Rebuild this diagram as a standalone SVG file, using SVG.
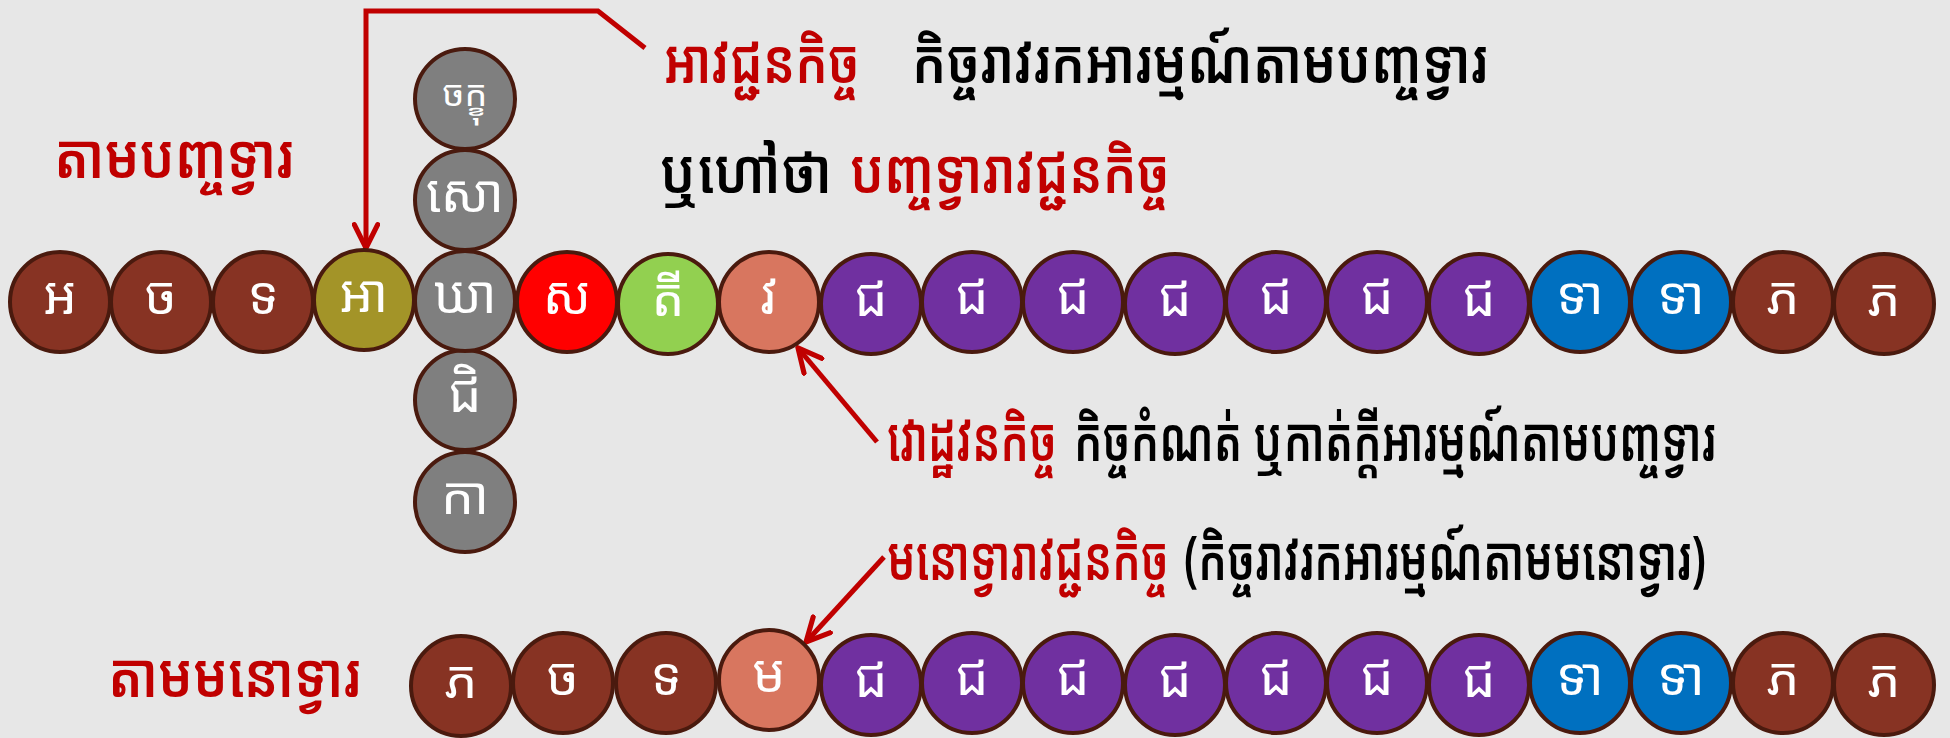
<svg xmlns="http://www.w3.org/2000/svg" width="1950" height="738" viewBox="0 0 1950 738">
<style>
.bg{fill:#e7e7e7}
.n circle{stroke:#4a1a0e;stroke-width:4}
.n text{fill:#ffffff;font-family:"Noto Sans Khmer","Khmer OS","Noto Serif Khmer","Noto Sans",sans-serif;font-size:52px;text-anchor:middle}
.br{fill:#873323}.ol{fill:#a39428}.gr{fill:#7f7f7f}.rd{fill:#ff0000}.gn{fill:#92d050}.sa{fill:#d8765f}.pu{fill:#7030a0}.bl{fill:#0070c0}
.t{font-family:"Noto Sans Khmer","Khmer OS","Noto Serif Khmer","Noto Sans",sans-serif;font-size:62px;font-weight:600}
.r{fill:#c00000}.k{fill:#000000}
.c{fill:none;stroke:#c00000;stroke-width:5}
</style>
<defs>
<marker id="ah" viewBox="0 0 12 12" refX="11" refY="6" markerWidth="28" markerHeight="28" markerUnits="userSpaceOnUse" orient="auto">
<path d="M1,1 L11,6 L1,11" fill="none" stroke="#c00000" stroke-width="2.2" stroke-linecap="round" stroke-linejoin="miter"/>
</marker>
</defs>
<rect class="bg" x="0" y="0" width="1950" height="738"/>

<g id="labels">
<text class="t r" x="54" y="178" textLength="240" lengthAdjust="spacingAndGlyphs">តាមបញ្ចទ្វារ</text>
<text class="t r" x="664" y="83" textLength="196" lengthAdjust="spacingAndGlyphs">អាវជ្ជនកិច្ច</text>
<text class="t k" x="912" y="83" textLength="576" lengthAdjust="spacingAndGlyphs">កិច្ចរាវរកអារម្មណ៍តាមបញ្ចទ្វារ</text>
<text class="t k" x="660" y="193" textLength="172" lengthAdjust="spacingAndGlyphs">ឬហៅថា</text>
<text class="t r" x="850" y="193" textLength="320" lengthAdjust="spacingAndGlyphs">បញ្ចទ្វារាវជ្ជនកិច្ច</text>
<text class="t r" x="887" y="461" textLength="170" lengthAdjust="spacingAndGlyphs">វោដ្ឋវនកិច្ច</text>
<text class="t k" x="1074" y="461" textLength="642" lengthAdjust="spacingAndGlyphs">កិច្ចកំណត់ ឬកាត់ក្តីអារម្មណ៍តាមបញ្ចទ្វារ</text>
<text class="t r" x="887" y="580" textLength="282" lengthAdjust="spacingAndGlyphs">មនោទ្វារាវជ្ជនកិច្ច</text>
<text class="t k" x="1184" y="580" textLength="522" lengthAdjust="spacingAndGlyphs">(កិច្ចរាវរកអារម្មណ៍តាមមនោទ្វារ)</text>
<text class="t r" x="108" y="697" textLength="253" lengthAdjust="spacingAndGlyphs">តាមមនោទ្វារ</text>
</g>

<g id="connectors">
<path class="c" d="M645,48 L598,11 L366,11 L366,248" marker-end="url(#ah)"/>
<path class="c" d="M877,442 L798,348" marker-end="url(#ah)"/>
<path class="c" d="M884,557 L806,642" marker-end="url(#ah)"/>
</g>

<g id="column">
<g id="c-cakkhu" class="n"><circle class="gr" cx="465" cy="99" r="50"/><text x="465" y="106" style="font-size:36px">ចក្ខុ</text></g>
<g id="c-so" class="n"><circle class="gr" cx="465" cy="200" r="50"/><text x="465" y="212">សោ</text></g>
<g id="c-ji" class="n"><circle class="gr" cx="465" cy="400" r="50"/><text x="465" y="412">ជិ</text></g>
<g id="c-ka" class="n"><circle class="gr" cx="465" cy="502" r="50"/><text x="465" y="514">កា</text></g>
</g>

<g id="top-row">
<g id="t1" class="n"><circle class="br" cx="60" cy="302" r="50"/><text x="60" y="314">អ</text></g>
<g id="t2" class="n"><circle class="br" cx="161" cy="302" r="50"/><text x="161" y="314">ច</text></g>
<g id="t3" class="n"><circle class="br" cx="263" cy="302" r="50"/><text x="263" y="314">ទ</text></g>
<g id="t4" class="n"><circle class="ol" cx="364" cy="300" r="50"/><text x="364" y="312">អា</text></g>
<g id="t5" class="n"><circle class="gr" cx="465" cy="301" r="50"/><text x="465" y="313">ឃា</text></g>
<g id="t6" class="n"><circle class="rd" cx="567" cy="302" r="50"/><text x="567" y="314">ស</text></g>
<g id="t7" class="n"><circle class="gn" cx="668" cy="304" r="50"/><text x="668" y="316">តី</text></g>
<g id="t8" class="n"><circle class="sa" cx="769" cy="302" r="50"/><text x="769" y="314">វ</text></g>
<g id="t9" class="n"><circle class="pu" cx="871" cy="304" r="50"/><text x="871" y="316">ជ</text></g>
<g id="t10" class="n"><circle class="pu" cx="972" cy="302" r="50"/><text x="972" y="314">ជ</text></g>
<g id="t11" class="n"><circle class="pu" cx="1073" cy="302" r="50"/><text x="1073" y="314">ជ</text></g>
<g id="t12" class="n"><circle class="pu" cx="1175" cy="304" r="50"/><text x="1175" y="316">ជ</text></g>
<g id="t13" class="n"><circle class="pu" cx="1276" cy="302" r="50"/><text x="1276" y="314">ជ</text></g>
<g id="t14" class="n"><circle class="pu" cx="1377" cy="302" r="50"/><text x="1377" y="314">ជ</text></g>
<g id="t15" class="n"><circle class="pu" cx="1479" cy="304" r="50"/><text x="1479" y="316">ជ</text></g>
<g id="t16" class="n"><circle class="bl" cx="1580" cy="302" r="50"/><text x="1580" y="314">ទា</text></g>
<g id="t17" class="n"><circle class="bl" cx="1681" cy="302" r="50"/><text x="1681" y="314">ទា</text></g>
<g id="t18" class="n"><circle class="br" cx="1783" cy="302" r="50"/><text x="1783" y="314">ភ</text></g>
<g id="t19" class="n"><circle class="br" cx="1884" cy="304" r="50"/><text x="1884" y="316">ភ</text></g>
</g>

<g id="bottom-row">
<g id="b1" class="n"><circle class="br" cx="461" cy="686" r="50"/><text x="461" y="698">ភ</text></g>
<g id="b2" class="n"><circle class="br" cx="563" cy="683" r="50"/><text x="563" y="695">ច</text></g>
<g id="b3" class="n"><circle class="br" cx="666" cy="683" r="50"/><text x="666" y="695">ទ</text></g>
<g id="b4" class="n"><circle class="sa" cx="769" cy="680" r="50"/><text x="769" y="692">ម</text></g>
<g id="b5" class="n"><circle class="pu" cx="871" cy="685" r="50"/><text x="871" y="697">ជ</text></g>
<g id="b6" class="n"><circle class="pu" cx="972" cy="683" r="50"/><text x="972" y="695">ជ</text></g>
<g id="b7" class="n"><circle class="pu" cx="1073" cy="683" r="50"/><text x="1073" y="695">ជ</text></g>
<g id="b8" class="n"><circle class="pu" cx="1175" cy="685" r="50"/><text x="1175" y="697">ជ</text></g>
<g id="b9" class="n"><circle class="pu" cx="1276" cy="683" r="50"/><text x="1276" y="695">ជ</text></g>
<g id="b10" class="n"><circle class="pu" cx="1377" cy="683" r="50"/><text x="1377" y="695">ជ</text></g>
<g id="b11" class="n"><circle class="pu" cx="1479" cy="685" r="50"/><text x="1479" y="697">ជ</text></g>
<g id="b12" class="n"><circle class="bl" cx="1580" cy="683" r="50"/><text x="1580" y="695">ទា</text></g>
<g id="b13" class="n"><circle class="bl" cx="1681" cy="683" r="50"/><text x="1681" y="695">ទា</text></g>
<g id="b14" class="n"><circle class="br" cx="1783" cy="683" r="50"/><text x="1783" y="695">ភ</text></g>
<g id="b15" class="n"><circle class="br" cx="1884" cy="685" r="50"/><text x="1884" y="697">ភ</text></g>
</g>
</svg>
